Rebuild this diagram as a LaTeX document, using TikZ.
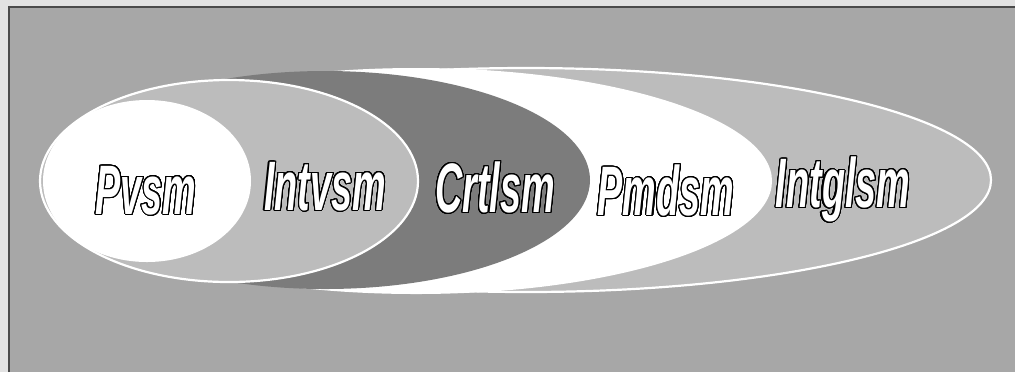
\documentclass[tikz,border=0pt]{standalone}
\usepackage{fontspec}
\usepackage{xcolor}
\usepackage{contour}
\usetikzlibrary{shapes.geometric}
\newfontfamily\labelfont[FakeStretch=0.54]{Liberation Sans}

\begin{document}
\begin{tikzpicture}[x=0.5pt, y=-0.5pt]
    % define colours
    \definecolor{pagegray}{HTML}{E2E2E2}
    \definecolor{slidegray}{HTML}{A7A7A7}
    \definecolor{lightring}{HTML}{BCBCBC}
    \definecolor{darkring}{HTML}{7C7C7C}
    \definecolor{rimline}{HTML}{4A4A4A}
    % outlined label: white letters with a black contour
    \contourlength{0.55pt}
    \contournumber{32}
    \newcommand{\OutlineLabel}[1]{\contour{black}{\textcolor{white}{#1}}}

    % --- styles ---
    \tikzset{RingStyle/.style = {
        shape=ellipse,          % ellipse
        draw=none,              % no border
        inner sep=0pt,          % empty node
        outer sep=0pt
    }}
    \tikzset{RimRing/.style = {
        RingStyle,
        draw=white,             % white rim
        line width=1.1pt
    }}
    \tikzset{LabelStyle/.style = {
        inner sep=0pt,
        font=\labelfont\bfseries\itshape\fontsize{35}{35}\selectfont
    }}

    % --- slide frame ---
    \useasboundingbox (0,0) rectangle (1015,372);
    \fill[pagegray] (0,0) rectangle (1015,372);
    \fill[slidegray] (9,7) rectangle (1015,372);
    \draw[rimline, line width=1pt] (9,372) -- (9,7) -- (1015,7);

    % --- rings, back to front ---
    \node[RimRing, fill=lightring, minimum width=465pt, minimum height=112pt] (intgl) at (526,180) {};
    \node[RingStyle, fill=white, minimum width=356pt, minimum height=113pt] (pmd) at (416,181) {};
    \node[RingStyle, fill=darkring, minimum width=265pt, minimum height=109pt] (crtl) at (325,180) {};
    \node[RimRing, fill=lightring, minimum width=189pt, minimum height=101pt] (intv) at (229,181) {};
    \node[RingStyle, fill=white, minimum width=104pt, minimum height=81pt] (pvs) at (147,181) {};

    % --- labels ---
    \node[LabelStyle] (pvslabel) at (146,191) {\OutlineLabel{Pvsm}};
    \node[LabelStyle] (intvlabel) at (325,187) {\OutlineLabel{Intvsm}};
    \node[LabelStyle] (crtllabel) at (495,188) {\OutlineLabel{Crtlsm}};
    \node[LabelStyle] (pmdlabel) at (666,191) {\OutlineLabel{Pmdsm}};
    \node[LabelStyle] (intgllabel) at (843,190) {\OutlineLabel{Intglsm}};

\end{tikzpicture}
\end{document}
